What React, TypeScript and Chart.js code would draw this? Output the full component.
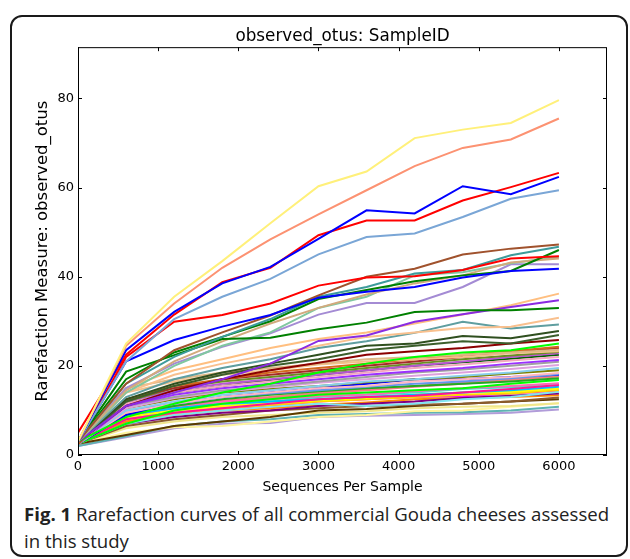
import React, { useEffect, useRef } from "react";
import { Chart, registerables } from "chart.js";

Chart.register(...registerables);

// Rarefaction depths (sequences per sample)
const seqPerSample = [0, 600, 1200, 1800, 2400, 3000, 3600, 4200, 4800, 5400, 6000];
const xTickValues = [0, 1000, 2000, 3000, 4000, 5000, 6000];
const yTickValues = [0, 20, 40, 60, 80];

// Upper, well separated curves
const sYellowTop = [3, 25, 35.5, 43.5, 52, 60.3, 63.6, 71.1, 73, 74.5, 79.6];
const sSalmon = [3, 24.5, 34, 42, 48.4, 54, 59.4, 64.8, 68.9, 70.8, 75.5];
const sBlueTop = [3, 23.5, 32.1, 38.5, 42.2, 48.5, 54.9, 54.2, 60.3, 58.5, 62.4];
const sRedTop = [5, 22.5, 31.5, 38.8, 42, 49.3, 52.6, 52.6, 57.1, 60.1, 63.3];
const sSteel = [3, 21, 30.5, 35.5, 39.5, 45, 48.9, 49.7, 53.4, 57.5, 59.4];
const sRed2 = [3, 22, 29.9, 31.4, 34, 38, 39.8, 40.1, 41.5, 44.1, 44.6];
const sBlue2 = [3, 21, 25.8, 28.8, 31.4, 35.3, 36.6, 37.7, 39.8, 41.3, 41.8];
const sSienna = [3, 16, 23.5, 27.5, 31.3, 35.8, 40, 41.8, 45, 46.3, 47.2];
const sTeal = [3, 16, 22, 26.5, 30.5, 35.5, 37.7, 40.7, 41.5, 44.8, 46.7];
const sGreenA = [3, 18.7, 22.4, 26, 26.3, 28.2, 29.7, 32.1, 32.5, 32.5, 33];
const sGreenB = [3, 17, 23, 26.5, 30, 35, 37, 39, 40.3, 41.3, 46];
const sTan = [3, 14.5, 21, 25.5, 29.5, 33, 36, 38.5, 40.3, 43.2, 44.1];
const sSeaGreen = [3, 14, 20, 24.5, 27.5, 33, 35.5, 40.3, 41, 43, 44.5];
const sLavender = [3, 15, 20.5, 24.3, 27.3, 31.5, 34.1, 34.1, 37.7, 42.8, 42.8];
const sViolet = [3, 11, 14, 17, 20.5, 25.6, 26.8, 29.9, 31.6, 33.2, 34.7];
const sPeachA = [3, 15, 19, 21.5, 24, 26, 27.5, 29.5, 31.5, 33.6, 36.2];
const sPeachB = [3, 14, 18, 20.5, 22.5, 24.5, 26.5, 27.5, 28.5, 28.8, 30.8];
const sCadet = [3, 13, 17, 19.5, 21.5, 24, 25.5, 27.4, 29.9, 28.4, 29.3];
const sOlive1 = [3, 12.5, 16, 18.5, 20.5, 22.5, 24.5, 25, 26.7, 26.2, 27.8];
const sOlive2 = [3, 12, 15.5, 18, 20, 21.5, 23.5, 24.5, 25.5, 25, 26.9];
const sDarkRed = [3, 11, 14.5, 17, 19, 20.7, 22.5, 23.3, 24, 25, 25.8];
const sLimeA = [3, 8.5, 11.5, 14, 16, 18.5, 20.5, 22, 23, 23.5, 25];

// Dense lower cluster
const cBurly = [3, 15, 17, 18.5, 19.5, 20.5, 21.5, 22, 22.5, 23, 23.6];
const cApricot = [3, 14, 16.5, 18, 19, 20.3, 21, 21.5, 22, 22.8, 23.3];
const cChocolate = [2.5, 12.5, 15.5, 17, 18.5, 19.5, 20.5, 21.5, 22.5, 23.3, 24.3];
const cBrownRed = [2.5, 12.5, 15, 17, 18, 19, 20, 21, 22, 23, 24];
const cOliveDrab = [2.5, 12, 15, 16.5, 17.5, 18.5, 19.5, 20.5, 21.5, 22.3, 23.1];
const cOrchid = [2.5, 12, 14.5, 16, 17, 18, 19, 20, 21, 22, 22.8];
const cPink2 = [2.5, 11.5, 14, 15.5, 16.5, 17.5, 18.5, 19.5, 20.3, 21.2, 22];
const cPurpleB = [2.5, 11, 13.5, 15, 16, 17, 18, 18.8, 19.5, 20.5, 21.3];
const cGray = [2.5, 11, 13, 14.5, 15.5, 16.5, 17.5, 18.5, 19.2, 20, 20.9];
const cPlum = [2.5, 10.5, 12.8, 14.2, 15.2, 16.2, 17, 17.8, 18.5, 19.3, 20.2];
const cSky = [2.5, 10, 12, 13.5, 14.5, 15.5, 16.5, 17, 17.8, 18.5, 19.5];
const cOlive = [2.5, 10.5, 12.5, 14, 14.8, 15.5, 16.3, 17, 17.5, 18.3, 19];
const cLightPink = [2.5, 9.5, 11.5, 13, 14, 15, 15.5, 16.5, 17, 17.5, 18.4];
const cCornflower = [2.5, 10, 11.5, 13, 13.8, 14.5, 15.3, 16, 16.5, 17.2, 18.1];
const cBlueLow = [2.5, 9, 11.5, 13, 14, 15, 16, 17, 17, 17.5, 18];
const cGreenMid = [2.5, 9, 11, 12.5, 13.5, 14.3, 15, 15.5, 16, 16.5, 17.2];
const cLimeB = [2.5, 7, 10, 11.5, 12.5, 13.5, 14, 14.5, 15, 16, 16.8];
const cHotPink = [2.5, 9.5, 11, 12, 12.5, 13.2, 13.6, 14.3, 15, 15.5, 16.1];
const cDeepPink = [2.5, 8, 9.5, 10.5, 11.5, 12.5, 13, 13.3, 14, 14.8, 15.7];
const cDeepSky = [2.5, 9, 10.5, 11.5, 12, 12.5, 13, 13.5, 14, 14.5, 15.3];
const cYellow = [2.5, 8.5, 10, 11, 11.5, 12.3, 12.8, 13.5, 14, 14.2, 14.9];
const cGold = [2.5, 8, 9.5, 10.5, 11.2, 12, 12.5, 13, 13.5, 13.8, 14.6];
const cCyanLight = [2.5, 7, 9, 10, 10.8, 11.5, 11, 11.5, 12.5, 13, 14.2];
const cPurple = [2.5, 7, 8.5, 9.5, 10, 11, 11.5, 12, 12.8, 13.3, 13.8];
const cOrange = [2.5, 7.5, 9, 10, 10.5, 11.3, 11.8, 12.5, 12.8, 13, 13.4];
const cBrown = [2.5, 6.5, 8, 9, 10, 10.5, 11, 11.3, 11.5, 12, 12.9];
const cDarkBrown = [2.5, 4.5, 6.5, 7.5, 8.5, 10, 10.3, 11, 11.5, 12, 12.5];
const cKhaki = [2.5, 6, 7.5, 8.5, 9, 9.5, 9.8, 10.5, 10.8, 11, 11.6];
const cPaleYellow = [2.5, 5, 6.2, 6.5, 7.5, 8.5, 9, 9.8, 10, 10.8, 11.6];
const cTealLight = [2, 4.2, 6.5, 7.5, 8, 9, 9.2, 9.5, 9.6, 10, 10.8];
const cLavenderLow = [2, 4, 6, 7, 7.2, 8.5, 8.8, 9, 9.2, 9.5, 10.2];
const cCoral = [2.5, 8.5, 10.5, 12, 12.8, 13.8, 14.5, 15.3, 16, 16.8, 17.6];
const cTurquoise = [2.5, 8, 10, 11, 12, 13, 13.5, 14, 14.8, 15.2, 15.8];
const cMagenta = [2.5, 7.5, 9.5, 10.5, 11, 12, 12.5, 13, 13.2, 13.8, 14.4];
const cDarkGreen = [2.5, 11.5, 14, 15.5, 16.8, 18, 19, 20, 20.8, 21.6, 22.5];
const cSalmonLow = [2.5, 9, 11, 12.2, 13, 14, 14.8, 15.5, 16.2, 17, 17.8];

const seriesColors = [
  "#fff07a", "#fc9272", "#0000ff", "#ff0000", "#7aa6d6", "#ff0000", "#0000ff",
  "#a0522d", "#3d9b9b", "#008000", "#008000", "#d2aa7d", "#80c8a0", "#a48bd4",
  "#8a2be2", "#ffbf80", "#f9c08e", "#5f9ea0", "#2f4f1f", "#3b5e2b", "#8b0000", "#00ff00",
  "#deb887", "#f4c28a", "#d2691e", "#a52a2a", "#6b8e23", "#ba55d3", "#f4a6c0",
  "#9b30ff", "#a0a0a0", "#dda0dd", "#87ceeb", "#808000", "#ffb6c1", "#6495ed",
  "#0000ff", "#22aa22", "#00ff00", "#ff69b4", "#ff1493", "#00bfff", "#ffff00",
  "#ffd700", "#7fe5f0", "#800080", "#ff8c00", "#8b5a2b", "#5c3a00", "#f0e68c",
  "#fff59d", "#5fb3b3", "#b19cd9", "#f08080", "#40e0d0", "#ff00ff", "#006400", "#fa8072",
];

const seriesValues = [
  sYellowTop, sSalmon, sBlueTop, sRedTop, sSteel, sRed2, sBlue2, sSienna, sTeal,
  sGreenA, sGreenB, sTan, sSeaGreen, sLavender, sViolet, sPeachA, sPeachB, sCadet,
  sOlive1, sOlive2, sDarkRed, sLimeA,
  cBurly, cApricot, cChocolate, cBrownRed, cOliveDrab, cOrchid, cPink2, cPurpleB,
  cGray, cPlum, cSky, cOlive, cLightPink, cCornflower, cBlueLow, cGreenMid, cLimeB,
  cHotPink, cDeepPink, cDeepSky, cYellow, cGold, cCyanLight, cPurple, cOrange,
  cBrown, cDarkBrown, cKhaki, cPaleYellow, cTealLight, cLavenderLow, cCoral,
  cTurquoise, cMagenta, cDarkGreen, cSalmonLow,
];

const FONT = "'DejaVu Sans', sans-serif";

const frameTicks = {
  id: "frameTicks",
  afterDatasetsDraw(chart: any) {
    const { ctx, chartArea: a, scales } = chart;
    const len = 4;
    ctx.save();
    ctx.strokeStyle = "#000";
    ctx.lineWidth = 1;
    ctx.beginPath();
    for (const v of xTickValues) {
      const px = Math.round(scales.x.getPixelForValue(v)) + 0.5;
      ctx.moveTo(px, a.bottom);
      ctx.lineTo(px, a.bottom - len);
      ctx.moveTo(px, a.top);
      ctx.lineTo(px, a.top + len);
    }
    for (const v of yTickValues) {
      const py = Math.round(scales.y.getPixelForValue(v)) + 0.5;
      ctx.moveTo(a.left, py);
      ctx.lineTo(a.left + len, py);
      ctx.moveTo(a.right, py);
      ctx.lineTo(a.right - len, py);
    }
    ctx.stroke();
    ctx.strokeRect(a.left + 0.5, a.top + 0.5, a.right - a.left - 1, a.bottom - a.top - 1);
    ctx.restore();
  },
};

export default function App() {
  const canvasRef = useRef<HTMLCanvasElement | null>(null);

  useEffect(() => {
    const canvas = canvasRef.current;
    if (!canvas) return;
    const datasets = seriesValues.map((vals, i) => ({
      label: "S" + (i + 1),
      data: seqPerSample.map((x, j) => ({ x, y: vals[j] })),
      borderColor: seriesColors[i % seriesColors.length],
      backgroundColor: seriesColors[i % seriesColors.length],
      borderWidth: 2,
      pointRadius: 0,
      tension: 0,
      fill: false,
    }));
    const chart = new Chart(canvas, {
      type: "line",
      data: { datasets },
      plugins: [frameTicks],
      options: {
        animation: false,
        responsive: false,
        devicePixelRatio: 1,
        layout: { padding: { left: 0, right: 23, top: 0, bottom: 0 } },
        plugins: {
          legend: { display: false },
          tooltip: { enabled: false },
          title: {
            display: true,
            text: "observed_otus: SampleID",
            fullSize: false,
            color: "#000",
            font: { family: FONT, size: 16.8, weight: "normal", lineHeight: 1.2 },
            padding: { top: 27, bottom: 0 },
          },
        },
        scales: {
          x: {
            type: "linear",
            min: 0,
            max: 6600,
            afterBuildTicks: (axis: any) => {
              axis.ticks = xTickValues.map((v) => ({ value: v }));
            },
            afterFit: (scale: any) => {
              scale.height = 45;
            },
            grid: { display: false, drawTicks: false },
            border: { display: false },
            ticks: {
              color: "#000",
              font: { family: FONT, size: 13 },
              padding: 4,
              maxRotation: 0,
              autoSkip: false,
              callback: (v: any) => String(v),
            },
            title: {
              display: true,
              text: "Sequences Per Sample",
              color: "#000",
              font: { family: FONT, size: 14 },
              padding: { top: 0, bottom: 4.6 },
            },
          },
          y: {
            type: "linear",
            min: 0,
            max: 91.5,
            afterBuildTicks: (axis: any) => {
              axis.ticks = yTickValues.map((v) => ({ value: v }));
            },
            afterFit: (scale: any) => {
              scale.width = 78;
            },
            grid: { display: false, drawTicks: false },
            border: { display: false },
            ticks: {
              color: "#000",
              font: { family: FONT, size: 13 },
              padding: 4,
              autoSkip: false,
              callback: (v: any) => String(v),
            },
            title: {
              display: true,
              text: "Rarefaction Measure: observed_otus",
              color: "#000",
              font: { family: FONT, size: 16.5 },
              padding: { top: 33, bottom: 0 },
            },
          },
        },
      },
    });
    return () => chart.destroy();
  }, []);

  return (
    <div
      style={{
        position: "absolute",
        left: 0,
        top: 0,
        width: 630,
        height: 559,
        background: "#fff",
        overflow: "hidden",
      }}
    >
      <div
        style={{
          position: "absolute",
          left: 10,
          top: 15,
          width: 614,
          height: 538,
          border: "2px solid #1a1a1a",
          borderRadius: 12,
        }}
      />
      <canvas
        ref={canvasRef}
        width={630}
        height={500}
        style={{ position: "absolute", left: 0, top: 0, width: 630, height: 500 }}
      />
      <div
        style={{
          position: "absolute",
          left: 24,
          top: 500,
          fontFamily: "'Open Sans', sans-serif",
          fontSize: 18.6,
          lineHeight: "27px",
          color: "#222",
          whiteSpace: "nowrap",
        }}
      >
        <b>Fig. 1</b> Rarefaction curves of all commercial Gouda cheeses assessed
        <br />
        in this study
      </div>
    </div>
  );
}
